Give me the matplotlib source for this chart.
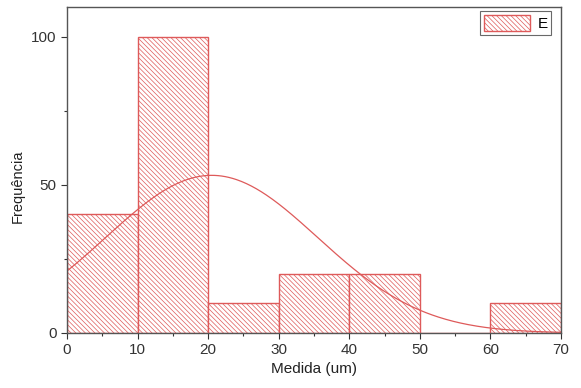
import numpy as np
import matplotlib
matplotlib.use("Agg")
import matplotlib.pyplot as plt

plt.rcParams['font.family'] = ['Liberation Sans', 'DejaVu Sans']
plt.rcParams['hatch.linewidth'] = 0.5
plt.rcParams['hatch.color'] = '#e9a0a0'

# Histogram bins (Medida, um) and counts
bin_edges = [0, 10, 20, 30, 40, 50, 60, 70]
counts = [40, 100, 10, 20, 20, 0, 10]

# Normal fit parameters for the overlay curve
fit_mean = 20.5
fit_sd = 15.0

fig = plt.figure(figsize=(5.81, 3.88), dpi=100)
ax = fig.add_axes([0.1153, 0.1418, 0.8503, 0.8402])

lefts = bin_edges[:-1]
widths = np.diff(bin_edges)
ax.bar(lefts, counts, width=widths, align='edge', facecolor='white',
       edgecolor='#de5a5a', linewidth=1.0, hatch='\\' * 7, label='E')

total = sum(counts)
bw = widths[0]
xs = np.linspace(bin_edges[0], bin_edges[-1], 400)
ys = total * bw / (fit_sd * np.sqrt(2 * np.pi)) * np.exp(-0.5 * ((xs - fit_mean) / fit_sd) ** 2)
ax.plot(xs, ys, color='#de5a5a', linewidth=0.9)

ax.set_xlim(0, 70)
ax.set_ylim(0, 110)
ax.set_xticks(range(0, 71, 10))
ax.set_xticks(range(5, 70, 10), minor=True)
ax.set_yticks([0, 50, 100])
ax.set_yticks([25, 75], minor=True)
ax.tick_params(which='major', direction='out', length=4, width=0.8, colors='#333333', labelsize=11)
ax.tick_params(which='minor', direction='out', length=2, width=0.8, colors='#333333')
for s in ax.spines.values():
    s.set_color('#555555')
    s.set_linewidth(1.0)

ax.set_xlabel('Medida (um)', fontsize=11, color='#222222', labelpad=3)
ax.set_ylabel('Frequência', fontsize=10.5, color='#222222')
ax.yaxis.set_label_coords(-0.085, 0.45)

leg = ax.legend(loc='upper right', frameon=True, fancybox=False, fontsize=11,
                handlelength=3.0, handleheight=1.25, borderpad=0.25, handletextpad=0.5,
                borderaxespad=0.15, bbox_to_anchor=(0.985, 0.995))
leg.get_frame().set_edgecolor('#444444')
leg.get_frame().set_linewidth(0.8)

fig.savefig('out.png', dpi=100)
